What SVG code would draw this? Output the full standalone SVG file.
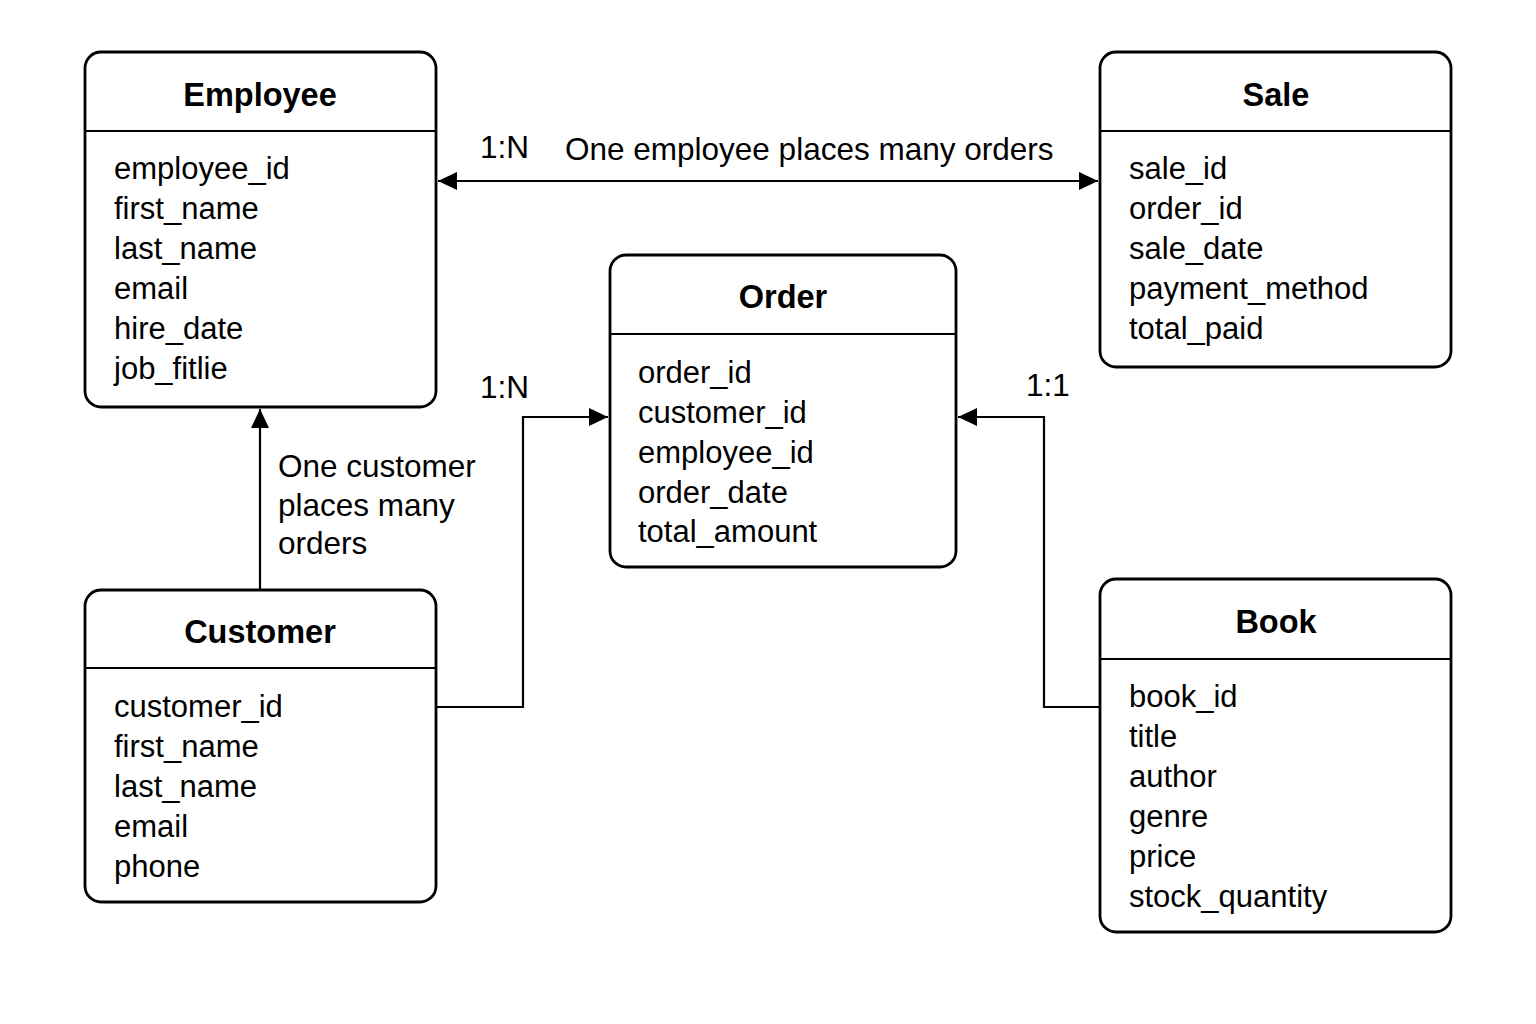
<svg xmlns="http://www.w3.org/2000/svg" width="1536" height="1024" viewBox="0 0 1536 1024">
<style>
.box{fill:#fff;stroke:#000;stroke-width:2.8}
.div{stroke:#000;stroke-width:2}
.title{font-family:"Liberation Sans",Arial,sans-serif;font-weight:bold;font-size:32.5px;text-anchor:middle;fill:#000}
.attr{font-family:"Liberation Sans",Arial,sans-serif;font-size:31px;fill:#000}
.lbl{font-family:"Liberation Sans",Arial,sans-serif;font-size:31.5px;fill:#000}
.edge{fill:none;stroke:#000;stroke-width:2.2}
</style>
<defs>
<marker id="arr" markerUnits="userSpaceOnUse" markerWidth="22" markerHeight="20" refX="19" refY="9" orient="auto-start-reverse">
<path d="M0,0 L19,9 L0,18 z" fill="#000"/>
</marker>
</defs>
<rect width="1536" height="1024" fill="#fff"/>
<g id="connectors">
<line class="edge" x1="438" y1="181" x2="1098" y2="181" marker-start="url(#arr)" marker-end="url(#arr)"/>
<line class="edge" x1="260" y1="589" x2="260" y2="409" marker-end="url(#arr)"/>
<polyline class="edge" points="436,707 523,707 523,417 608,417" marker-end="url(#arr)"/>
<polyline class="edge" points="1100,707 1044,707 1044,417 958,417" marker-end="url(#arr)"/>
<text class="lbl" x="480" y="158">1:N</text>
<text class="lbl" x="565" y="160">One employee places many orders</text>
<text class="lbl" x="278" y="477">One customer</text>
<text class="lbl" x="278" y="516">places many</text>
<text class="lbl" x="278" y="554">orders</text>
<text class="lbl" x="480" y="398">1:N</text>
<text class="lbl" x="1026" y="396">1:1</text>
</g>
<g id="employee">
<rect class="box" x="85" y="52" width="351" height="355" rx="16"/>
<line class="div" x1="85" y1="131" x2="436" y2="131"/>
<text class="title" x="260" y="106">Employee</text>
<text class="attr" x="114" y="179">employee_id</text>
<text class="attr" x="114" y="219">first_name</text>
<text class="attr" x="114" y="259">last_name</text>
<text class="attr" x="114" y="299">email</text>
<text class="attr" x="114" y="339">hire_date</text>
<text class="attr" x="114" y="379">job_fitlie</text>
</g>
<g id="sale">
<rect class="box" x="1100" y="52" width="351" height="315" rx="16"/>
<line class="div" x1="1100" y1="131" x2="1451" y2="131"/>
<text class="title" x="1276" y="106">Sale</text>
<text class="attr" x="1129" y="179">sale_id</text>
<text class="attr" x="1129" y="219">order_id</text>
<text class="attr" x="1129" y="259">sale_date</text>
<text class="attr" x="1129" y="299">payment_method</text>
<text class="attr" x="1129" y="339">total_paid</text>
</g>
<g id="order">
<rect class="box" x="610" y="255" width="346" height="312" rx="16"/>
<line class="div" x1="610" y1="334" x2="956" y2="334"/>
<text class="title" x="783" y="308">Order</text>
<text class="attr" x="638" y="383">order_id</text>
<text class="attr" x="638" y="423">customer_id</text>
<text class="attr" x="638" y="463">employee_id</text>
<text class="attr" x="638" y="503">order_date</text>
<text class="attr" x="638" y="542">total_amount</text>
</g>
<g id="customer">
<rect class="box" x="85" y="590" width="351" height="312" rx="16"/>
<line class="div" x1="85" y1="668" x2="436" y2="668"/>
<text class="title" x="260" y="643">Customer</text>
<text class="attr" x="114" y="717">customer_id</text>
<text class="attr" x="114" y="757">first_name</text>
<text class="attr" x="114" y="797">last_name</text>
<text class="attr" x="114" y="837">email</text>
<text class="attr" x="114" y="877">phone</text>
</g>
<g id="book">
<rect class="box" x="1100" y="579" width="351" height="353" rx="16"/>
<line class="div" x1="1100" y1="659" x2="1451" y2="659"/>
<text class="title" x="1276" y="633">Book</text>
<text class="attr" x="1129" y="707">book_id</text>
<text class="attr" x="1129" y="747">title</text>
<text class="attr" x="1129" y="787">author</text>
<text class="attr" x="1129" y="827">genre</text>
<text class="attr" x="1129" y="867">price</text>
<text class="attr" x="1129" y="907">stock_quantity</text>
</g>
</svg>
